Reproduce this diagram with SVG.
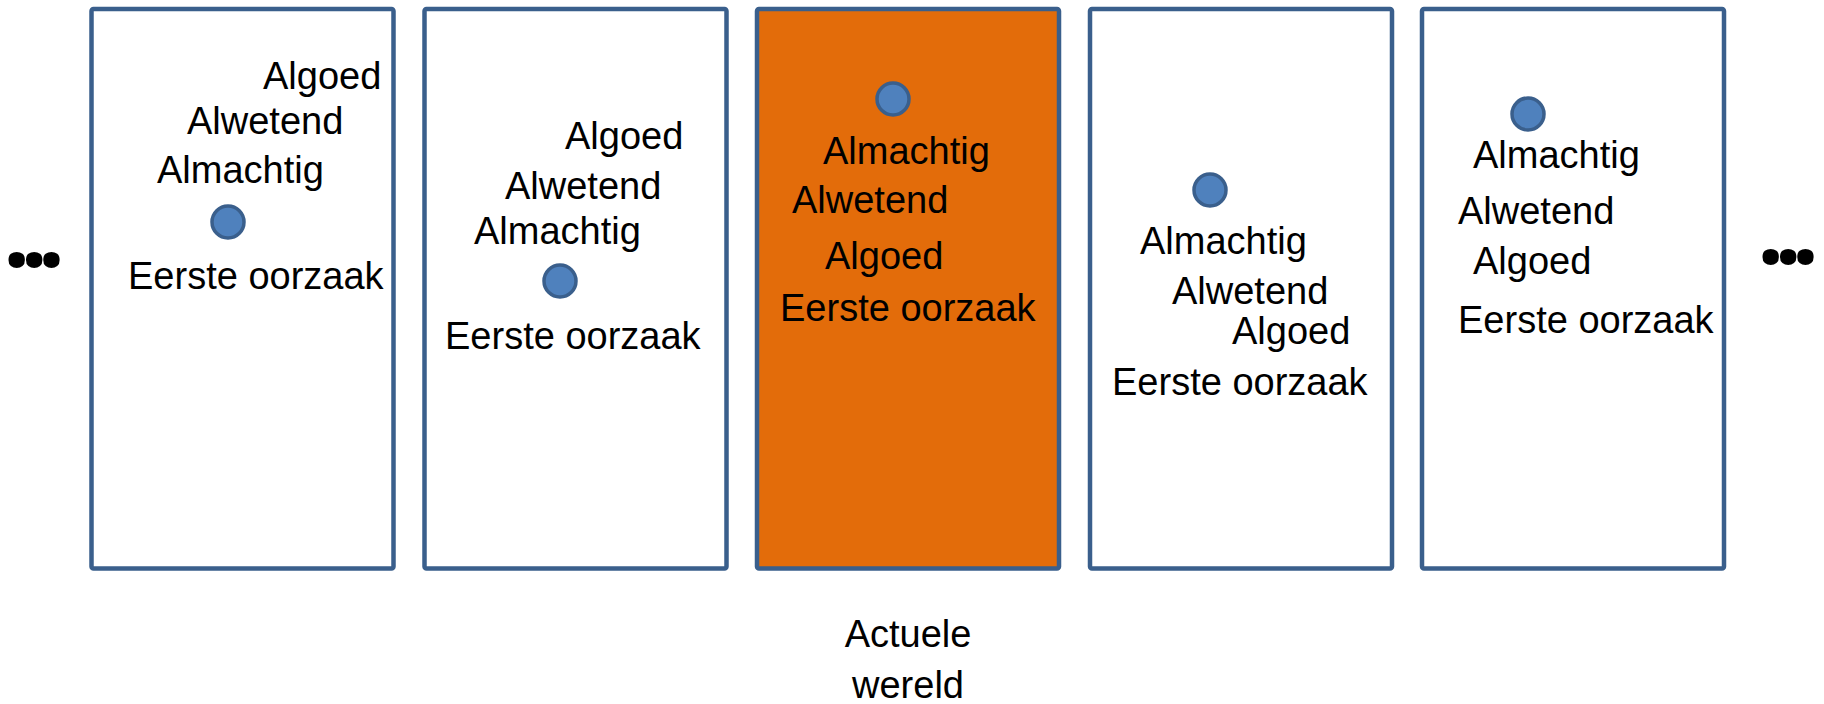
<svg xmlns="http://www.w3.org/2000/svg" width="1824" height="704" viewBox="0 0 1824 704">
<style>
.box{fill:#FFFFFF;stroke:#3A5F8C;stroke-width:4.5}
.cur{fill:#E36C0A}
.dot{fill:#4F81BD;stroke:#3A5F8C;stroke-width:3.5}
text{font-family:"Liberation Sans",Arial,sans-serif;font-size:38px;fill:#000000}
.ell{font-family:"Open Sans","Liberation Sans",sans-serif;font-weight:bold;font-size:96px;letter-spacing:-10px}
.mid{text-anchor:middle}
</style>
<rect width="1824" height="704" fill="#FFFFFF"/>
<g id="ellipsis-left"><text class="ell" x="3" y="267">...</text></g>
<g id="world1">
<rect class="box" x="91.5" y="9" width="302" height="559.5" rx="2"/>
<text x="263" y="89">Algoed</text>
<text x="187" y="134">Alwetend</text>
<text x="157" y="183">Almachtig</text>
<circle class="dot" cx="228" cy="222" r="16"/>
<text x="128" y="289">Eerste oorzaak</text>
</g>
<g id="world2">
<rect class="box" x="424.5" y="9" width="302" height="559.5" rx="2"/>
<text x="565" y="149">Algoed</text>
<text x="505" y="199">Alwetend</text>
<text x="474" y="244">Almachtig</text>
<circle class="dot" cx="560" cy="281" r="16"/>
<text x="445" y="349">Eerste oorzaak</text>
</g>
<g id="world3">
<rect class="box cur" x="757" y="9" width="302" height="559.5" rx="2"/>
<circle class="dot" cx="893" cy="99" r="16"/>
<text x="823" y="164">Almachtig</text>
<text x="792" y="213">Alwetend</text>
<text x="825" y="269">Algoed</text>
<text x="780" y="321">Eerste oorzaak</text>
</g>
<g id="world4">
<rect class="box" x="1090" y="9" width="302" height="559.5" rx="2"/>
<circle class="dot" cx="1210" cy="190" r="16"/>
<text x="1140" y="254">Almachtig</text>
<text x="1172" y="304">Alwetend</text>
<text x="1232" y="344">Algoed</text>
<text x="1112" y="395">Eerste oorzaak</text>
</g>
<g id="world5">
<rect class="box" x="1422" y="9" width="302" height="559.5" rx="2"/>
<circle class="dot" cx="1528" cy="114" r="16"/>
<text x="1473" y="168">Almachtig</text>
<text x="1458" y="224">Alwetend</text>
<text x="1473" y="274">Algoed</text>
<text x="1458" y="333">Eerste oorzaak</text>
</g>
<g id="ellipsis-right"><text class="ell" x="1757" y="264">...</text></g>
<g id="label-actual">
<text class="mid" x="908" y="647">Actuele</text>
<text class="mid" x="908" y="698">wereld</text>
</g>
<g id="connectors"></g>
</svg>
